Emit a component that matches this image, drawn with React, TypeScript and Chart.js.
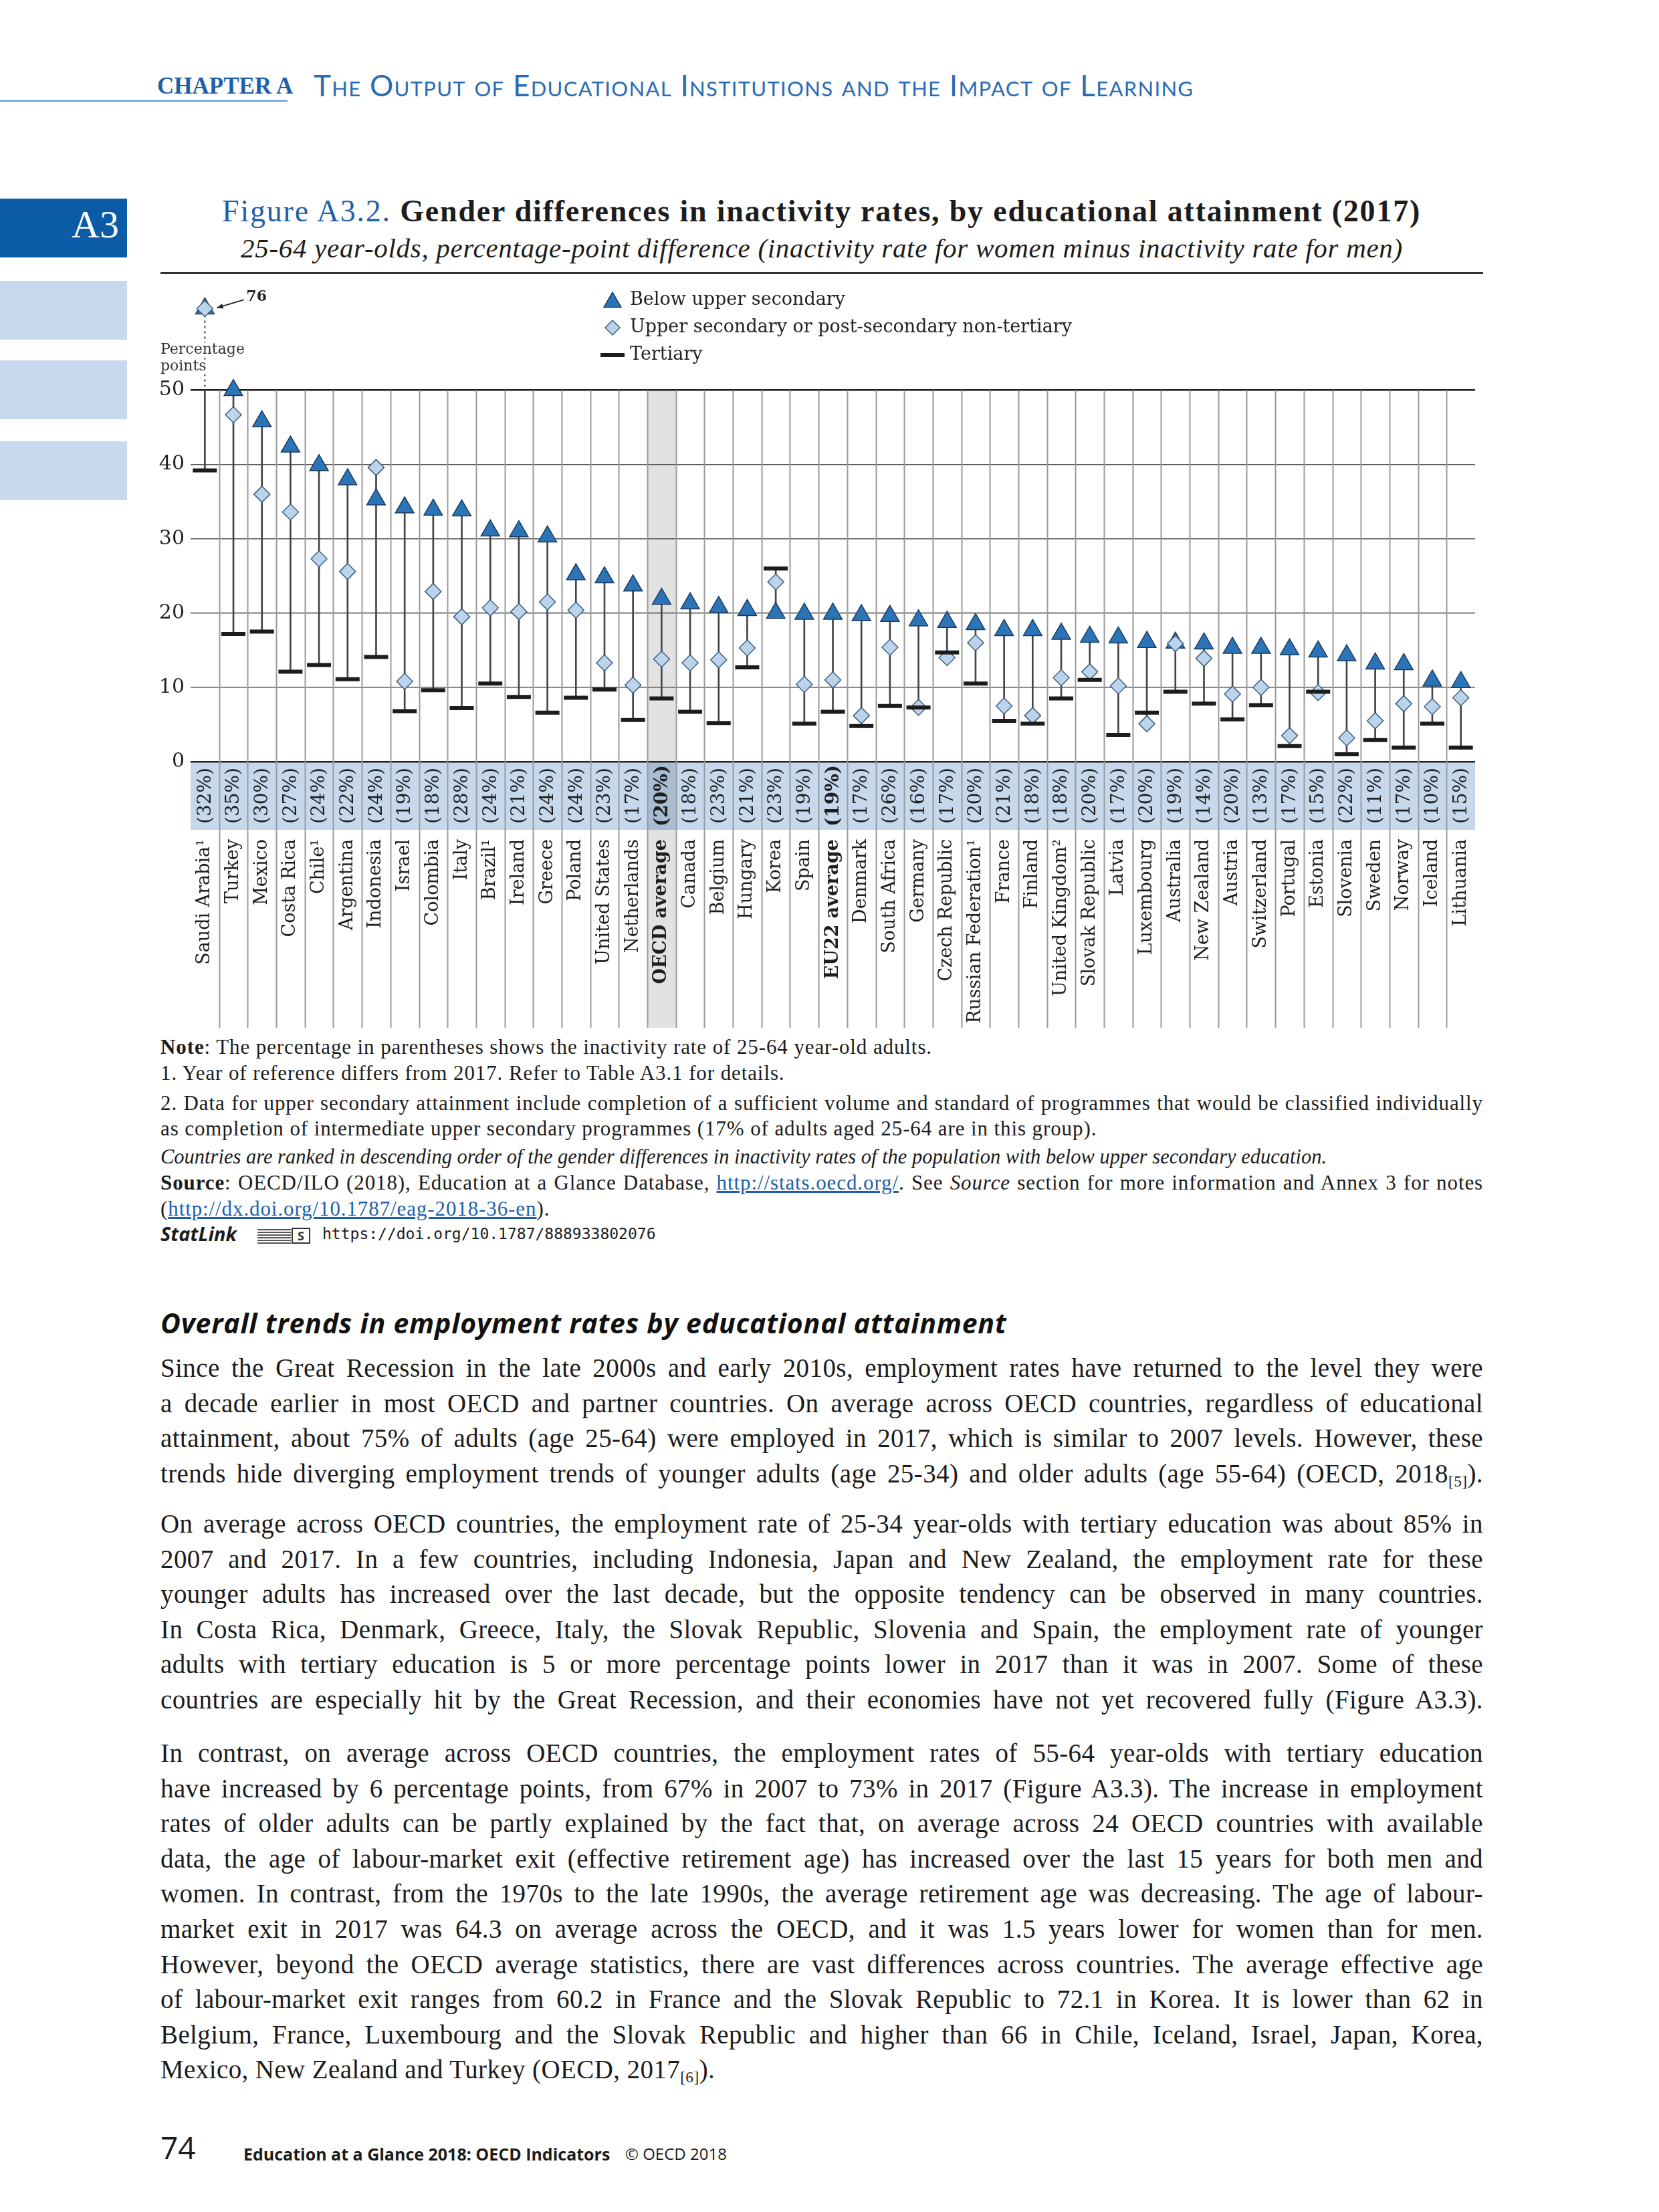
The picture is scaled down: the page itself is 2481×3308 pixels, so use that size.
import React, { useEffect, useRef } from 'react';
import { Chart, registerables } from 'chart.js';
Chart.register(...registerables);

// ---------------- DATA ----------------
const categories = [
  'Saudi Arabia¹', 'Turkey', 'Mexico', 'Costa Rica', 'Chile¹', 'Argentina', 'Indonesia', 'Israel',
  'Colombia', 'Italy', 'Brazil¹', 'Ireland', 'Greece', 'Poland', 'United States', 'Netherlands',
  'OECD average', 'Canada', 'Belgium', 'Hungary', 'Korea', 'Spain', 'EU22 average', 'Denmark',
  'South Africa', 'Germany', 'Czech Republic', 'Russian Federation¹', 'France', 'Finland',
  'United Kingdom²', 'Slovak Republic', 'Latvia', 'Luxembourg', 'Australia', 'New Zealand',
  'Austria', 'Switzerland', 'Portugal', 'Estonia', 'Slovenia', 'Sweden', 'Norway', 'Iceland', 'Lithuania',
];
const inactivityRates = [
  32, 35, 30, 27, 24, 22, 24, 19, 18, 28, 24, 21, 24, 24, 23, 17, 20, 18, 23, 21, 23, 19, 19,
  17, 26, 16, 17, 20, 21, 18, 18, 20, 17, 20, 19, 14, 20, 13, 17, 15, 22, 11, 17, 10, 15,
];
const belowUpperSecondary = [
  76, 50.0, 45.8, 42.4, 39.9, 38.0, 35.3, 34.2, 33.9, 33.8, 31.1, 31.0, 30.3, 25.2, 24.8, 23.7,
  21.9, 21.3, 20.8, 20.4, 20.0, 19.9, 19.9, 19.7, 19.6, 19.0, 18.8, 18.5, 17.7, 17.7, 17.2, 16.8,
  16.7, 16.1, 16.0, 15.9, 15.3, 15.3, 15.1, 14.8, 14.3, 13.2, 13.1, 10.9, 10.7,
];
const upperSecondary = [
  57, 46.7, 36.0, 33.6, 27.3, 25.6, 39.6, 10.8, 22.9, 19.5, 20.7, 20.2, 21.5, 20.4, 13.3, 10.3,
  13.8, 13.3, 13.7, 15.3, 24.2, 10.4, 11.0, 6.2, 15.4, 7.3, 14.0, 16.0, 7.5, 6.2, 11.3, 12.1,
  10.2, 5.1, 15.9, 13.9, 9.1, 10.0, 3.5, 9.3, 3.2, 5.5, 7.8, 7.4, 8.6,
];
const tertiary = [
  39.2, 17.2, 17.5, 12.1, 13.0, 11.1, 14.1, 6.8, 9.6, 7.2, 10.5, 8.7, 6.6, 8.6, 9.7, 5.6,
  8.5, 6.7, 5.2, 12.7, 26.0, 5.1, 6.7, 4.8, 7.5, 7.3, 14.7, 10.5, 5.5, 5.1, 8.5, 11.0,
  3.6, 6.6, 9.4, 7.8, 5.7, 7.6, 2.1, 9.4, 1.0, 2.9, 1.9, 5.1, 1.9,
];
const yTickValues = [0, 10, 20, 30, 40, 50];
const averageCategories = ['OECD average', 'EU22 average'];
const legendLabels = ['Below upper secondary', 'Upper secondary or post-secondary non-tertiary', 'Tertiary'];

// axis break: values above the scale are shown above the top gridline
const AXIS_TOP = 50;
const AXIS_MAX = 62.75;
const BREAK_LIMIT = 52;
const BREAK_VALUE = 61.0;
const toDisplay = (v: number) => (v > BREAK_LIMIT ? BREAK_VALUE : v);

// ---------------- STYLE ----------------
const SERIF = 'DejaVu Serif';
const TRI_FILL = '#2c74b8';
const TRI_EDGE = '#1b3a5e';
const DIA_FILL = '#bcd4eb';
const DIA_EDGE = '#3e5f82';
const DASH = '#1c1c1c';
const BAND = '#c6d9ec';
const BAND_AVG = '#a8bcd3';
const COL_AVG = '#e2e2e2';
const BAND_H = 102;
const SEP_BOTTOM = 1122;

function FigureChart() {
  const ref = useRef<HTMLCanvasElement>(null);
  useEffect(() => {
    const canvas = ref.current as HTMLCanvasElement;
    const belowDisp = belowUpperSecondary.map(toDisplay);
    const upperDisp = upperSecondary.map(toDisplay);
    const ranges = categories.map((_, i) => {
      const vals = [belowUpperSecondary[i], upperSecondary[i], tertiary[i]];
      return [Math.min(...vals), Math.min(Math.max(...vals), AXIS_TOP)];
    });
    const oecdIdx = categories.indexOf('OECD average');
    const isAvg = (i: number) => averageCategories.includes(categories[i]);

    const geom = (chart: any) => {
      const x = chart.scales.x;
      const y = chart.scales.y;
      const step = x.getPixelForValue(1) - x.getPixelForValue(0);
      return { x, y, step, y0: y.getPixelForValue(0), y50: y.getPixelForValue(AXIS_TOP) };
    };

    const drawTri = (ctx: CanvasRenderingContext2D, cx: number, cy: number, r: number) => {
      ctx.beginPath();
      ctx.moveTo(cx, cy - r);
      ctx.lineTo(cx + r * Math.sin((2 * Math.PI) / 3), cy + r / 2);
      ctx.lineTo(cx - r * Math.sin((2 * Math.PI) / 3), cy + r / 2);
      ctx.closePath();
      ctx.fillStyle = TRI_FILL;
      ctx.fill();
      ctx.lineWidth = 1.5;
      ctx.strokeStyle = TRI_EDGE;
      ctx.stroke();
    };
    const drawDia = (ctx: CanvasRenderingContext2D, cx: number, cy: number, r: number) => {
      ctx.beginPath();
      ctx.moveTo(cx, cy - r);
      ctx.lineTo(cx + r, cy);
      ctx.lineTo(cx, cy + r);
      ctx.lineTo(cx - r, cy);
      ctx.closePath();
      ctx.fillStyle = DIA_FILL;
      ctx.fill();
      ctx.lineWidth = 1.5;
      ctx.strokeStyle = DIA_EDGE;
      ctx.stroke();
    };

    const decor = {
      id: 'decor',
      beforeDraw(chart: any) {
        const { ctx, chartArea: a } = chart;
        const g = geom(chart);
        const xc = g.x.getPixelForValue(oecdIdx);
        ctx.save();
        ctx.fillStyle = COL_AVG;
        ctx.fillRect(xc - g.step / 2, g.y50, g.step, SEP_BOTTOM - g.y50);
        ctx.fillStyle = BAND;
        ctx.fillRect(a.left, g.y0, a.right - a.left, BAND_H);
        ctx.fillStyle = BAND_AVG;
        ctx.fillRect(xc - g.step / 2, g.y0, g.step, BAND_H);
        ctx.restore();
      },
      beforeDatasetsDraw(chart: any) {
        const { ctx, chartArea: a } = chart;
        const g = geom(chart);
        ctx.save();
        ctx.strokeStyle = '#9a9a9a';
        ctx.lineWidth = 2;
        for (let i = 1; i < categories.length; i++) {
          const xb = Math.round((g.x.getPixelForValue(i - 1) + g.x.getPixelForValue(i)) / 2) + 0.5;
          ctx.beginPath();
          ctx.moveTo(xb, g.y50);
          ctx.lineTo(xb, SEP_BOTTOM);
          ctx.stroke();
        }
        // dotted continuation above the scale for the off-scale value
        const mx = g.x.getPixelForValue(0);
        const my = g.y.getPixelForValue(belowDisp[0]);
        ctx.setLineDash([3, 5]);
        ctx.strokeStyle = '#333';
        ctx.beginPath();
        ctx.moveTo(mx, my + 10);
        ctx.lineTo(mx, g.y50);
        ctx.stroke();
        ctx.setLineDash([]);
        // axis title
        ctx.font = `22px "${SERIF}"`;
        ctx.textBaseline = 'middle';
        ctx.textAlign = 'left';
        const lx = a.left - 45;
        const lines = [['Percentage', g.y50 - 60], ['points', g.y50 - 35]] as const;
        for (const [t, ly] of lines) {
          const w = ctx.measureText(t).width;
          ctx.fillStyle = '#fff';
          ctx.fillRect(lx, ly - 11, w, 22);
          ctx.fillStyle = '#333';
          ctx.fillText(t, lx, ly);
        }
        ctx.restore();
      },
      afterDatasetsDraw(chart: any) {
        const { ctx } = chart;
        const g = geom(chart);
        ctx.save();
        // percentages in the band
        ctx.fillStyle = '#1e1e1e';
        ctx.textAlign = 'center';
        ctx.textBaseline = 'middle';
        categories.forEach((_, i) => {
          ctx.save();
          ctx.translate(g.x.getPixelForValue(i), g.y0 + BAND_H / 2);
          ctx.rotate(-Math.PI / 2);
          ctx.font = `${isAvg(i) ? 'bold ' : ''}28px "${SERIF}"`;
          ctx.fillText(`(${inactivityRates[i]}%)`, 0, 1);
          ctx.restore();
        });
        // off-scale label with arrow
        const mx = g.x.getPixelForValue(0);
        const my = g.y.getPixelForValue(belowDisp[0]);
        const tail = { x: mx + 58, y: my - 13 };
        const tip = { x: mx + 18, y: my - 1 };
        ctx.strokeStyle = '#222';
        ctx.fillStyle = '#222';
        ctx.lineWidth = 1.8;
        ctx.beginPath();
        ctx.moveTo(tail.x, tail.y);
        ctx.lineTo(tip.x, tip.y);
        ctx.stroke();
        const ang = Math.atan2(tip.y - tail.y, tip.x - tail.x);
        ctx.beginPath();
        ctx.moveTo(tip.x, tip.y);
        ctx.lineTo(tip.x - 10 * Math.cos(ang - 0.4), tip.y - 10 * Math.sin(ang - 0.4));
        ctx.lineTo(tip.x - 10 * Math.cos(ang + 0.4), tip.y - 10 * Math.sin(ang + 0.4));
        ctx.closePath();
        ctx.fill();
        ctx.font = `bold 22px "${SERIF}"`;
        ctx.textAlign = 'left';
        ctx.fillText(String(belowUpperSecondary[0]), mx + 62, my - 17);
        // legend
        const lgx = 686;
        const lgy = [34, 75, 116];
        drawTri(ctx, lgx, lgy[0] + 3, 15);
        drawDia(ctx, lgx, lgy[1], 11);
        ctx.strokeStyle = DASH;
        ctx.lineWidth = 6;
        ctx.beginPath();
        ctx.moveTo(lgx - 18, lgy[2]);
        ctx.lineTo(lgx + 18, lgy[2]);
        ctx.stroke();
        ctx.fillStyle = '#222';
        ctx.font = `27px "${SERIF}"`;
        ctx.textAlign = 'left';
        ctx.textBaseline = 'middle';
        legendLabels.forEach((t, i) => ctx.fillText(t, lgx + 26, lgy[i]));
        ctx.restore();
      },
    };

    const chart = new Chart(canvas, {
      type: 'bar',
      data: {
        labels: categories,
        datasets: [
          {
            type: 'bar',
            label: 'range',
            data: ranges as any,
            backgroundColor: '#444',
            barThickness: 2,
            order: 4,
          },
          {
            type: 'line',
            label: legendLabels[2],
            data: tertiary,
            showLine: false,
            pointStyle: 'line',
            pointRadius: 18,
            pointHoverRadius: 18,
            pointBorderColor: DASH,
            pointBorderWidth: 6,
            borderColor: DASH,
            order: 1,
          },
          {
            type: 'line',
            label: legendLabels[1],
            data: upperDisp,
            showLine: false,
            pointStyle: 'rectRot',
            pointRadius: 12,
            pointHoverRadius: 12,
            pointBackgroundColor: DIA_FILL,
            pointBorderColor: DIA_EDGE,
            pointBorderWidth: 1.5,
            order: 2,
          },
          {
            type: 'line',
            label: legendLabels[0],
            data: belowDisp,
            showLine: false,
            pointStyle: 'triangle',
            pointRadius: 16,
            pointHoverRadius: 16,
            pointBackgroundColor: TRI_FILL,
            pointBorderColor: TRI_EDGE,
            pointBorderWidth: 1.5,
            order: 3,
          },
        ],
      },
      options: {
        animation: false,
        responsive: false,
        maintainAspectRatio: false,
        devicePixelRatio: 1,
        layout: { padding: { top: 15, right: 11, left: 0, bottom: 0 } },
        plugins: { legend: { display: false }, tooltip: { enabled: false } },
        scales: {
          x: {
            grid: { display: false, drawTicks: false },
            border: { display: false },
            ticks: {
              autoSkip: false,
              maxRotation: 90,
              minRotation: 90,
              padding: 116,
              color: '#1e1e1e',
              font: (ctx: any) => ({ family: SERIF, size: 27, weight: isAvg(ctx.index) ? 'bold' : 'normal' }),
            },
            afterFit: (s: any) => {
              s.height = 401;
              s.paddingLeft = 0;
              s.paddingRight = 0;
            },
          },
          y: {
            min: 0,
            max: AXIS_MAX,
            afterBuildTicks: (s: any) => {
              s.ticks = yTickValues.map((v) => ({ value: v }));
            },
            grid: {
              drawTicks: false,
              color: (ctx: any) => (ctx.tick && (ctx.tick.value === 50 || ctx.tick.value === 0) ? '#222' : '#555'),
              lineWidth: (ctx: any) => (ctx.tick && (ctx.tick.value === 50 || ctx.tick.value === 0) ? 2.5 : 1.4),
            },
            border: { display: false },
            ticks: { padding: 9, color: '#222', font: { family: SERIF, size: 30 } },
            afterFit: (s: any) => {
              s.width = 55;
            },
          },
        },
      },
      plugins: [decor],
    } as any);
    return () => chart.destroy();
  }, []);
  return (
    <canvas
      ref={ref}
      width={2000}
      height={1125}
      style={{ position: 'absolute', left: 230, top: 415, width: 2000, height: 1125 }}
    />
  );
}

// ---------------- PAGE TEXT ----------------
const BODY = 'Liberation Serif';
const BLUE = '#1f5fa8';

const para1 = [
  'Since the Great Recession in the late 2000s and early 2010s, employment rates have returned to the level they were',
  'a decade earlier in most OECD and partner countries. On average across OECD countries, regardless of educational',
  'attainment, about 75% of adults (age 25-64) were employed in 2017, which is similar to 2007 levels. However, these',
  'trends hide diverging employment trends of younger adults (age 25-34) and older adults (age 55-64) (OECD, 2018[5]).',
];
const para2 = [
  'On average across OECD countries, the employment rate of 25-34 year-olds with tertiary education was about 85% in',
  '2007 and 2017. In a few countries, including Indonesia, Japan and New Zealand, the employment rate for these',
  'younger adults has increased over the last decade, but the opposite tendency can be observed in many countries.',
  'In Costa Rica, Denmark, Greece, Italy, the Slovak Republic, Slovenia and Spain, the employment rate of younger',
  'adults with tertiary education is 5 or more percentage points lower in 2017 than it was in 2007. Some of these',
  'countries are especially hit by the Great Recession, and their economies have not yet recovered fully (Figure A3.3).',
];
const para3 = [
  'In contrast, on average across OECD countries, the employment rates of 55-64 year-olds with tertiary education',
  'have increased by 6 percentage points, from 67% in 2007 to 73% in 2017 (Figure A3.3). The increase in employment',
  'rates of older adults can be partly explained by the fact that, on average across 24 OECD countries with available',
  'data, the age of labour-market exit (effective retirement age) has increased over the last 15 years for both men and',
  'women. In contrast, from the 1970s to the late 1990s, the average retirement age was decreasing. The age of labour-',
  'market exit in 2017 was 64.3 on average across the OECD, and it was 1.5 years lower for women than for men.',
  'However, beyond the OECD average statistics, there are vast differences across countries. The average effective age',
  'of labour-market exit ranges from 60.2 in France and the Slovak Republic to 72.1 in Korea. It is lower than 62 in',
  'Belgium, France, Luxembourg and the Slovak Republic and higher than 66 in Chile, Iceland, Israel, Japan, Korea,',
  'Mexico, New Zealand and Turkey (OECD, 2017[6]).',
];

const withSub = (s: string) =>
  s.split(/(\[\d\])/).map((p, i) =>
    /^\[\d\]$/.test(p) ? (
      <sub key={i} style={{ fontSize: '0.6em', verticalAlign: '-0.25em', lineHeight: 0 }}>
        {p}
      </sub>
    ) : (
      <React.Fragment key={i}>{p}</React.Fragment>
    )
  );

function Line(props: {
  x: number;
  y: number;
  size: number;
  family?: string;
  width?: number;
  justify?: boolean;
  style?: React.CSSProperties;
  children: React.ReactNode;
}) {
  const { x, y, size, family = BODY, width, justify, style, children } = props;
  return (
    <div
      style={{
        position: 'absolute',
        left: x,
        top: y - size * 0.72,
        width,
        fontSize: size,
        lineHeight: 1.2,
        fontFamily: family,
        color: '#1c1c1c',
        whiteSpace: 'nowrap',
        textAlign: justify ? 'justify' : 'left',
        textAlignLast: justify ? 'justify' : 'left',
        ...style,
      }}
    >
      {children}
    </div>
  );
}

const LEFT = 240;
const TEXT_W = 1978;
const BODY_SIZE = 39;
const LINE_STEP = 52.6;
const NOTE_SIZE = 31;
const noteStyle: React.CSSProperties = { letterSpacing: 0.9 };

function Paragraph({ lines, y0, lastJustified }: { lines: string[]; y0: number; lastJustified: boolean }) {
  return (
    <>
      {lines.map((l, i) => (
        <Line
          key={i}
          x={LEFT}
          y={y0 + i * LINE_STEP}
          size={BODY_SIZE}
          width={TEXT_W}
          justify={i < lines.length - 1 || lastJustified}
          style={{ letterSpacing: 0.4 }}
        >
          {withSub(l)}
        </Line>
      ))}
    </>
  );
}

const link: React.CSSProperties = { color: BLUE, textDecoration: 'underline' };

export default function App() {
  return (
    <div
      style={{
        position: 'absolute',
        left: 0,
        top: 0,
        width: 2481,
        height: 3308,
        background: '#fff',
        overflow: 'hidden',
      }}
    >
      {/* running header */}
      <Line x={235} y={133} size={35} style={{ fontWeight: 700, color: BLUE, fontVariant: 'small-caps' }}>
        CHAPTER A
      </Line>
      <Line
        x={469}
        y={133}
        size={44}
        family="Lato"
        style={{ fontVariant: 'small-caps', color: '#2a6cb4', fontWeight: 400, letterSpacing: 1.3 }}
      >
        The Output of Educational Institutions and the Impact of Learning
      </Line>
      <div style={{ position: 'absolute', left: 0, top: 150, width: 430, height: 2, background: '#5d94cf' }} />

      {/* side tabs */}
      <div style={{ position: 'absolute', left: 0, top: 297, width: 190, height: 88, background: '#0b5ba6' }} />
      <Line x={107} y={343} size={58} style={{ color: '#fff' }}>
        A3
      </Line>
      <div style={{ position: 'absolute', left: 0, top: 420, width: 190, height: 88, background: '#c8d9ee' }} />
      <div style={{ position: 'absolute', left: 0, top: 539, width: 190, height: 88, background: '#c8d9ee' }} />
      <div style={{ position: 'absolute', left: 0, top: 660, width: 190, height: 88, background: '#c8d9ee' }} />

      {/* figure title */}
      <Line x={332} y={321} size={46} style={{ letterSpacing: 1.8 }}>
        <span style={{ color: BLUE }}>Figure A3.2.</span>
        <span style={{ fontWeight: 700 }}>{'  '}Gender differences in inactivity rates, by educational attainment (2017)</span>
      </Line>
      <Line x={360} y={377} size={41} style={{ fontStyle: 'italic', letterSpacing: 0.7 }}>
        25-64 year-olds, percentage-point difference (inactivity rate for women minus inactivity rate for men)
      </Line>
      <div style={{ position: 'absolute', left: 240, top: 407, width: 1978, height: 3, background: '#333' }} />

      <FigureChart />

      {/* notes */}
      <Line x={LEFT} y={1569} size={NOTE_SIZE} style={noteStyle}>
        <b>Note</b>: The percentage in parentheses shows the inactivity rate of 25-64 year-old adults.
      </Line>
      <Line x={LEFT} y={1608} size={NOTE_SIZE} style={noteStyle}>
        1. Year of reference differs from 2017. Refer to Table A3.1 for details.
      </Line>
      <Line x={LEFT} y={1653} size={NOTE_SIZE} width={TEXT_W} justify style={noteStyle}>
        2. Data for upper secondary attainment include completion of a sufficient volume and standard of programmes that would be classified individually
      </Line>
      <Line x={LEFT} y={1691} size={NOTE_SIZE} style={noteStyle}>
        as completion of intermediate upper secondary programmes (17% of adults aged 25-64 are in this group).
      </Line>
      <Line x={LEFT} y={1734} size={30.5} style={{ fontStyle: 'italic' }}>
        Countries are ranked in descending order of the gender differences in inactivity rates of the population with below upper secondary education.
      </Line>
      <Line x={LEFT} y={1772} size={NOTE_SIZE} width={TEXT_W} justify style={noteStyle}>
        <b>Source</b>: OECD/ILO (2018), Education at a Glance Database, <span style={link}>http://stats.oecd.org/</span>. See{' '}
        <i>Source</i> section for more information and Annex 3 for notes
      </Line>
      <Line x={LEFT} y={1811} size={NOTE_SIZE} style={noteStyle}>
        (<span style={link}>http://dx.doi.org/10.1787/eag-2018-36-en</span>).
      </Line>
      <Line x={LEFT} y={1849} size={29} family="Open Sans" style={{ fontStyle: 'italic', fontWeight: 700 }}>
        StatLink
      </Line>
      <div
        style={{
          position: 'absolute',
          left: 385,
          top: 1838,
          width: 50,
          height: 22,
          background: 'repeating-linear-gradient(180deg,#555 0 2px,#fff 2px 4px)',
        }}
      />
      <div
        style={{
          position: 'absolute',
          left: 436,
          top: 1836,
          width: 28,
          height: 24,
          border: '2px solid #333',
          fontFamily: 'Open Sans',
          fontWeight: 700,
          fontSize: 18,
          lineHeight: '20px',
          textAlign: 'center',
          color: '#333',
          boxSizing: 'border-box',
        }}
      >
        S
      </div>
      <Line x={482} y={1849} size={23} family="DejaVu Sans Mono">
        https://doi.org/10.1787/888933802076
      </Line>

      {/* section heading and body */}
      <Line
        x={LEFT}
        y={1984}
        size={41}
        family="Open Sans"
        style={{ fontStyle: 'italic', fontWeight: 700, color: '#111', letterSpacing: 0.8 }}
      >
        Overall trends in employment rates by educational attainment
      </Line>
      <Paragraph lines={para1} y0={2051} lastJustified />
      <Paragraph lines={para2} y0={2284} lastJustified />
      <Paragraph lines={para3} y0={2627} lastJustified={false} />

      {/* footer */}
      <Line x={LEFT} y={3217} size={46} family="Open Sans">
        74
      </Line>
      <Line x={364} y={3224} size={25} family="Open Sans" style={{ fontWeight: 700 }}>
        Education at a Glance 2018: OECD Indicators
      </Line>
      <Line x={935} y={3224} size={24} family="Open Sans">
        © OECD 2018
      </Line>
    </div>
  );
}
